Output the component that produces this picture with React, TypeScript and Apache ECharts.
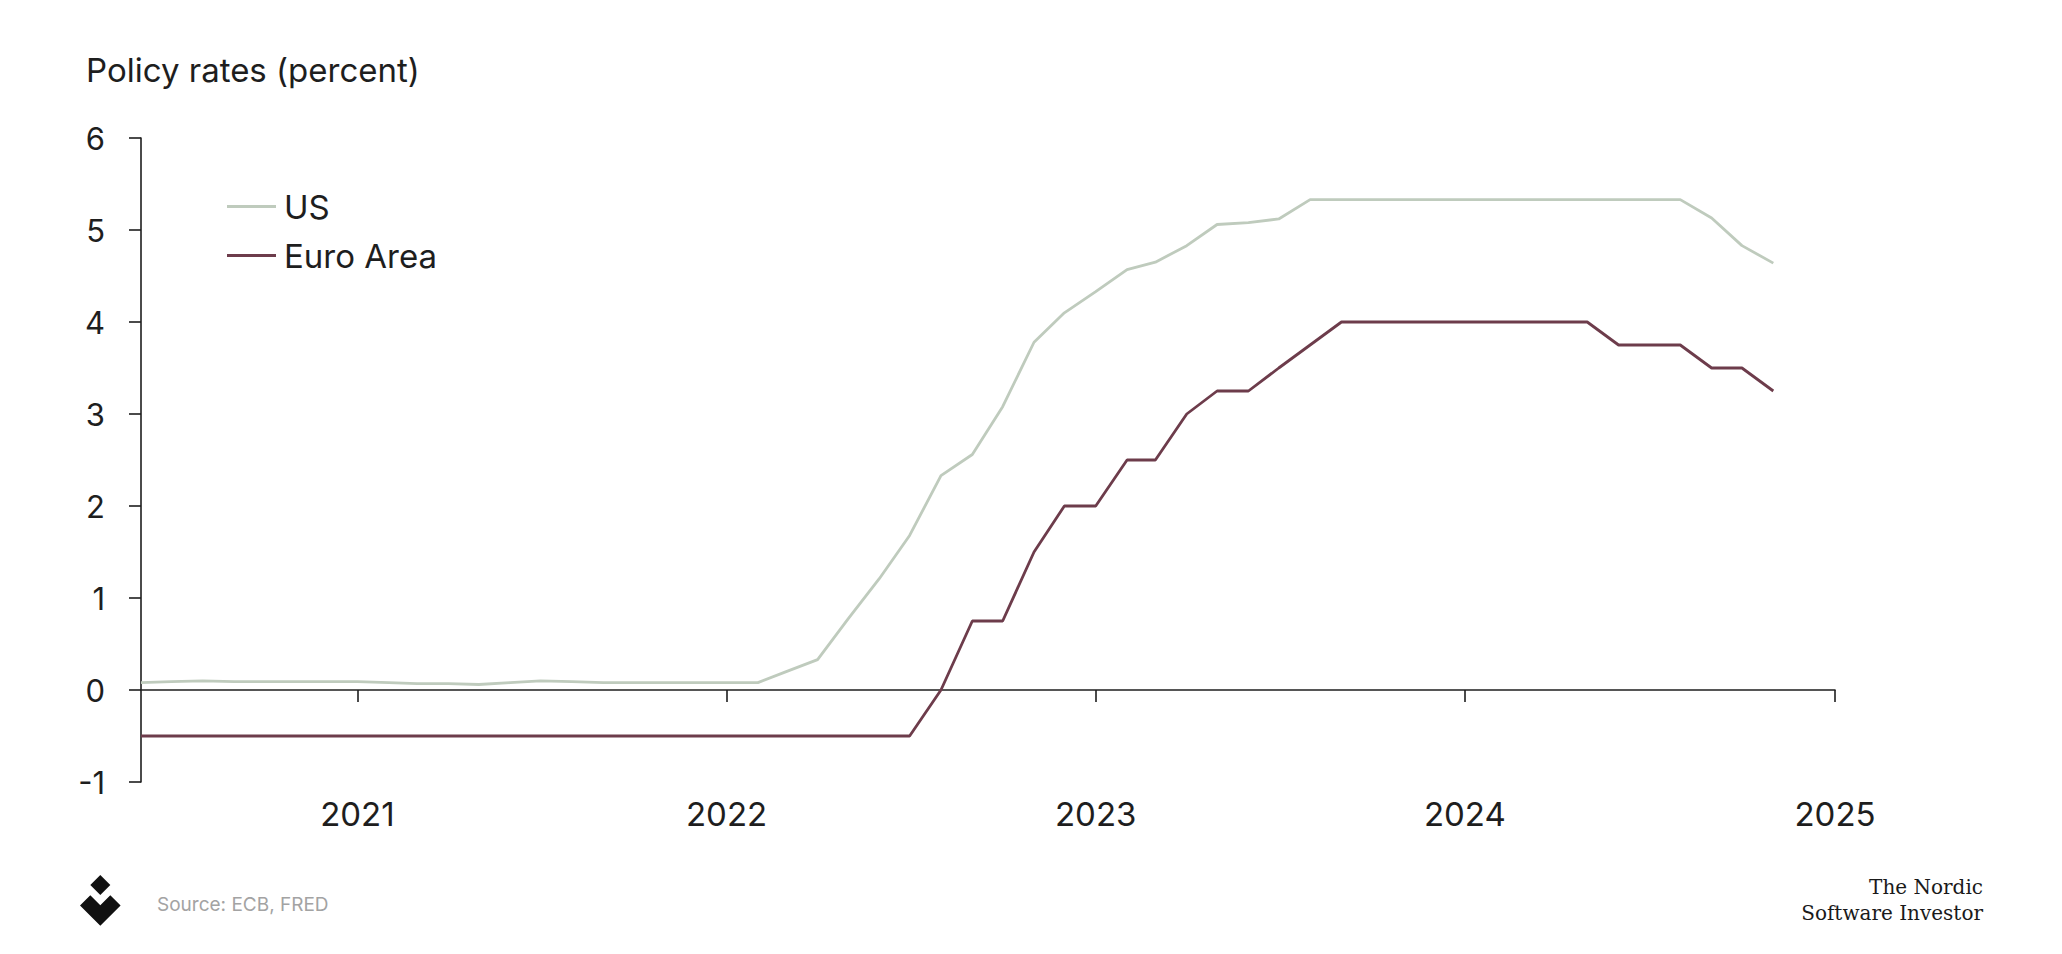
import React, { useEffect, useRef } from "react";
import * as echarts from "echarts";

const months = [
  "2020-06", "2020-07", "2020-08", "2020-09", "2020-10", "2020-11", "2020-12",
  "2021-01", "2021-02", "2021-03", "2021-04", "2021-05", "2021-06", "2021-07", "2021-08", "2021-09", "2021-10", "2021-11", "2021-12",
  "2022-01", "2022-02", "2022-03", "2022-04", "2022-05", "2022-06", "2022-07", "2022-08", "2022-09", "2022-10", "2022-11", "2022-12",
  "2023-01", "2023-02", "2023-03", "2023-04", "2023-05", "2023-06", "2023-07", "2023-08", "2023-09", "2023-10", "2023-11", "2023-12",
  "2024-01", "2024-02", "2024-03", "2024-04", "2024-05", "2024-06", "2024-07", "2024-08", "2024-09", "2024-10", "2024-11",
];

const usRates = [
  0.08, 0.09, 0.10, 0.09, 0.09, 0.09, 0.09,
  0.09, 0.08, 0.07, 0.07, 0.06, 0.08, 0.10, 0.09, 0.08, 0.08, 0.08, 0.08,
  0.08, 0.08, 0.20, 0.33, 0.77, 1.21, 1.68, 2.33, 2.56, 3.08, 3.78, 4.10,
  4.33, 4.57, 4.65, 4.83, 5.06, 5.08, 5.12, 5.33, 5.33, 5.33, 5.33, 5.33,
  5.33, 5.33, 5.33, 5.33, 5.33, 5.33, 5.33, 5.33, 5.13, 4.83, 4.64,
];

const euroRates = [
  -0.5, -0.5, -0.5, -0.5, -0.5, -0.5, -0.5,
  -0.5, -0.5, -0.5, -0.5, -0.5, -0.5, -0.5, -0.5, -0.5, -0.5, -0.5, -0.5,
  -0.5, -0.5, -0.5, -0.5, -0.5, -0.5, -0.5, 0, 0.75, 0.75, 1.5, 2.0,
  2.0, 2.5, 2.5, 3.0, 3.25, 3.25, 3.5, 3.75, 4.0, 4.0, 4.0, 4.0,
  4.0, 4.0, 4.0, 4.0, 4.0, 3.75, 3.75, 3.75, 3.5, 3.5, 3.25,
];

const yearTicks = [2021, 2022, 2023, 2024, 2025];
const xStart = "2020-06-01";
const xEnd = "2025-01-01";

const seriesNames = ["US", "Euro Area"];
const titleText = "Policy rates (percent)";
const sourceText = "Source: ECB, FRED";
const brandLines = ["The Nordic", "Software Investor"];

const FONT = "Inter, 'Noto Sans', sans-serif";
const US_COLOR = "#bfcbbd";
const EU_COLOR = "#6d3c4b";

export default function App() {
  const ref = useRef<HTMLDivElement>(null);

  useEffect(() => {
    if (!ref.current) return;
    const chart = echarts.init(ref.current, undefined, { renderer: "svg" });
    const DAY = 86400000;
    const dayNum = (y: number, m: number, d: number) => Date.UTC(y, m - 1, d) / DAY;
    const tickValues = yearTicks.map((y) => dayNum(y, 1, 1));
    const toDay = (m: string) => dayNum(+m.slice(0, 4), +m.slice(5, 7), 1);
    const parseDay = (s: string) => dayNum(+s.slice(0, 4), +s.slice(5, 7), +s.slice(8, 10));

    chart.setOption({
      animation: false,
      backgroundColor: "#ffffff",
      title: {
        text: titleText,
        left: 81,
        top: 48,
        textStyle: { fontFamily: FONT, fontSize: 33, fontWeight: 400, color: "#1e1e1e" },
      },
      legend: {
        orient: "vertical",
        left: 222,
        top: 185,
        icon: "rect",
        itemWidth: 49,
        itemHeight: 3,
        itemGap: 16,
        data: [
          { name: seriesNames[0], itemStyle: { color: US_COLOR } },
          { name: seriesNames[1], itemStyle: { color: EU_COLOR } },
        ],
        textStyle: { fontFamily: FONT, fontSize: 33, color: "#1e1e1e", lineHeight: 33, padding: [0, 0, 0, 3] },
      },
      grid: { left: 141, right: 227, top: 138, bottom: 172, containLabel: false },
      xAxis: {
        type: "value",
        min: parseDay(xStart),
        max: parseDay(xEnd),
        axisLine: { show: true, onZero: true, lineStyle: { color: "#1e1e1e", width: 1.6 } },
        axisTick: { show: true, length: 12, inside: false, customValues: tickValues, lineStyle: { color: "#1e1e1e", width: 1.6 } },
        axisLabel: {
          customValues: tickValues,
          margin: 15,
          fontFamily: FONT,
          fontSize: 33,
          color: "#1e1e1e",
          formatter: (v: number) => String(new Date(v * DAY).getUTCFullYear()),
        },
        splitLine: { show: false },
      },
      yAxis: {
        type: "value",
        min: -1,
        max: 6,
        interval: 1,
        axisLine: { show: true, lineStyle: { color: "#1e1e1e", width: 1.6 } },
        axisTick: { show: true, length: 12, inside: false, lineStyle: { color: "#1e1e1e", width: 1.6 } },
        axisLabel: { margin: 36, fontFamily: FONT, fontSize: 31, color: "#1e1e1e" },
        splitLine: { show: false },
      },
      series: [
        {
          name: seriesNames[0],
          type: "line",
          symbol: "none",
          data: months.map((m, i) => [toDay(m), usRates[i]]),
          lineStyle: { color: US_COLOR, width: 2.8 },
          itemStyle: { color: US_COLOR },
        },
        {
          name: seriesNames[1],
          type: "line",
          symbol: "none",
          data: months.map((m, i) => [toDay(m), euroRates[i]]),
          lineStyle: { color: EU_COLOR, width: 2.8 },
          itemStyle: { color: EU_COLOR },
        },
      ],
      graphic: [
        {
          type: "polygon",
          shape: { points: [[100.3, 875], [110.3, 885], [100.3, 895], [90.3, 885]] },
          style: { fill: "#111111" },
        },
        {
          type: "polygon",
          shape: {
            points: [[80, 905.5], [90.3, 895.2], [100.3, 905.2], [110.3, 895.2], [120.6, 905.5], [100.3, 925.8]],
          },
          style: { fill: "#111111" },
        },
        {
          type: "text",
          left: 157,
          top: 895,
          style: { text: sourceText, fontFamily: FONT, fontSize: 19, fill: "#a3a3a3" },
        },
        {
          type: "text",
          x: 1983,
          y: 887,
          style: {
            text: brandLines[0],
            fontFamily: "'DejaVu Serif', serif",
            fontSize: 20,
            fill: "#1a1a1a",
            textAlign: "right",
            textVerticalAlign: "middle",
          },
        },
        {
          type: "text",
          x: 1983,
          y: 913,
          style: {
            text: brandLines[1],
            fontFamily: "'DejaVu Serif', serif",
            fontSize: 20,
            fill: "#1a1a1a",
            textAlign: "right",
            textVerticalAlign: "middle",
          },
        },
      ],
    });

    return () => chart.dispose();
  }, []);

  return (
    <div
      ref={ref}
      style={{ position: "fixed", left: 0, top: 0, width: 2062, height: 954, background: "#ffffff" }}
    />
  );
}
